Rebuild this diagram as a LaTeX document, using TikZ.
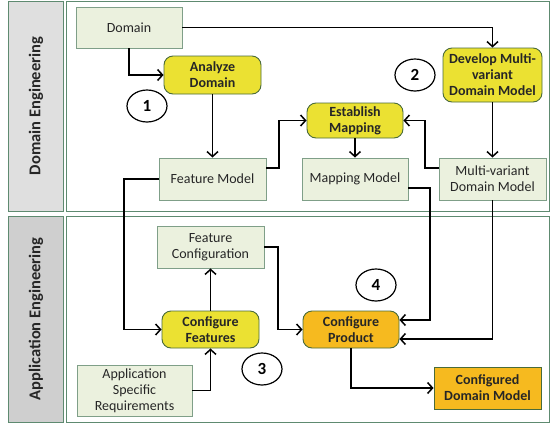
\documentclass[tikz,border=0pt]{standalone}
\usepackage{fontspec}
\setmainfont{Carlito}
\usetikzlibrary{arrows.meta,shapes.geometric}
\definecolor{boxfill}{HTML}{EBF1DE}
\definecolor{boxline}{HTML}{7F9F88}
\definecolor{yel}{HTML}{EBE132}
\definecolor{ora}{HTML}{F6BA1F}
\definecolor{darkgr}{HTML}{4A6B3A}
\definecolor{panelline}{HTML}{5E8A70}
\definecolor{graytop}{HTML}{DFDFDF}
\definecolor{graybot}{HTML}{CFCFCF}
\definecolor{txt}{HTML}{262626}
\tikzset{
  plainbox/.style={draw=boxline,fill=boxfill,line width=0.9pt,align=center,
    font=\fontsize{14}{16}\selectfont,text=txt,inner sep=1pt},
  taskbox/.style={draw=darkgr,fill=yel,line width=0.9pt,rounded corners=9pt,align=center,
    font=\fontsize{14}{16}\selectfont\bfseries,text=txt,inner sep=1pt},
  orabox/.style={draw=darkgr,fill=ora,line width=0.9pt,align=center,
    font=\fontsize{14}{16}\selectfont\bfseries,text=txt,inner sep=1pt},
  numcirc/.style={draw=black,line width=1.2pt,ellipse,minimum width=40pt,minimum height=32pt,
    inner sep=0pt,font=\fontsize{17}{19}\selectfont\bfseries},
  arr/.style={line width=1.5pt,-{Straight Barb[length=5pt,width=11pt,line width=1.5pt]}},
  ln/.style={line width=1.5pt},
  panel/.style={draw=panelline,line width=1pt},
  sidelabel/.style={rotate=90,font=\fontsize{16.5}{18}\selectfont\bfseries,text=txt}
}
\begin{document}
\begin{tikzpicture}[x=1pt,y=-1pt]
\useasboundingbox (0,0) rectangle (550,424);
% panels
\draw[panel,fill=graytop] (8,1) rectangle (63,211);
\draw[panel,fill=graybot] (8,216) rectangle (63,422);
\draw[panel,fill=white] (66,1) rectangle (549,211);
\draw[panel,fill=white] (66,216) rectangle (549,422);
\node[sidelabel] (de) at (36,106) {Domain Engineering};
\node[sidelabel] (ae) at (36,319) {Application Engineering};
% nodes
\node[plainbox,minimum width=106pt,minimum height=41pt] (dom) at (129,27.5) {Domain};
\node[taskbox,minimum width=97pt,minimum height=38pt] (ana) at (212.5,75) {Analyze\\Domain};
\node[plainbox,minimum width=107pt,minimum height=42pt] (fm) at (212.5,179) {Feature Model};
\node[taskbox,minimum width=99pt,minimum height=54pt] (dev) at (492.5,75) {Develop Multi-\\variant\\Domain Model};
\node[taskbox,minimum width=96pt,minimum height=35pt] (est) at (355,120.5) {Establish\\Mapping};
\node[plainbox,minimum width=106pt,minimum height=42pt] (mm) at (355,179) {Mapping Model};
\node[plainbox,minimum width=107pt,minimum height=42pt] (mvdm) at (492.5,179) {Multi-variant\\Domain Model};
\node[plainbox,minimum width=107pt,minimum height=42pt] (fc) at (210.5,247) {Feature\\Configuration};
\node[taskbox,minimum width=97pt,minimum height=37pt] (cf) at (210.5,329.5) {Configure\\Features};
\node[plainbox,minimum width=115pt,minimum height=51pt] (asr) at (134.5,390.5) {Application\\Specific\\Requirements};
\node[taskbox,fill=ora,minimum width=96pt,minimum height=37pt] (cp) at (351,329.5) {Configure\\Product};
\node[orabox,minimum width=107pt,minimum height=42pt] (cdm) at (487.5,388) {Configured\\Domain Model};
\node[numcirc] (n1) at (147,106) {1};
\node[numcirc] (n2) at (415,75) {2};
\node[numcirc] (n3) at (262,369) {3};
\node[numcirc] (n4) at (376,285) {4};
% connectors
\draw[arr] (dom.south) |- (ana.west);
\draw[arr] (dom.east) -| (dev.north);
\draw[arr] (ana.south) -- (fm.north);
\coordinate (b1) at (279,168);
\draw[arr] (fm.east |- b1) -- (b1) |- (est.west);
\coordinate (b2) at (425,168);
\draw[arr] (mvdm.west |- b2) -- (b2) |- (est.east);
\draw[arr] (dev.south) -- (mvdm.north);
\draw[arr] (est.south) -- (mm.north);
\coordinate (b3) at (430,188);
\coordinate (b4) at (430,320);
\draw[arr] (mm.east |- b3) -- (b3) -- (b4) -- (cp.east |- b4);
\coordinate (b5) at (492.5,339);
\draw[arr] (mvdm.south) -- (b5) -- (cp.east |- b5);
\coordinate (b6) at (124,179);
\draw[arr] (fm.west) -- (b6) |- (cf.west);
\draw[arr] (cf.north) -- (fc.south);
\draw[arr] (asr.east) -| (cf.south);
\coordinate (b7) at (278,247);
\draw[arr] (fc.east) -- (b7) |- (cp.west);
\draw[arr] (cp.south) |- (cdm.west);
\end{tikzpicture}
\end{document}
